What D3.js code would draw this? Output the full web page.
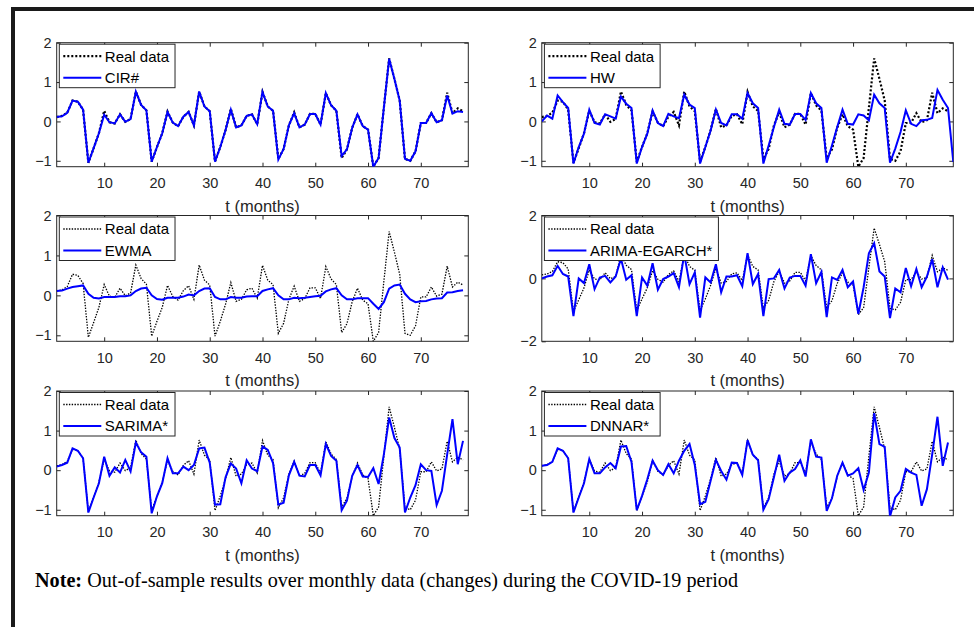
<!DOCTYPE html>
<html><head><meta charset="utf-8">
<script src="https://cdn.jsdelivr.net/npm/d3@7"></script>
<style>
html,body{margin:0;padding:0;background:#fff;}
svg{display:block;}
</style></head>
<body>
<script>
// ---------- DATA ----------
const realData = [0.11,0.14,0.22,0.53,0.50,0.30,-1.05,-0.68,-0.30,0.27,
-0.02,-0.05,0.18,-0.01,0.06,0.76,0.42,0.28,-1.02,-0.65,
-0.30,0.25,-0.03,-0.12,0.12,0.24,-0.10,0.76,0.38,0.26,
-1.02,-0.65,-0.22,0.32,-0.15,-0.10,0.14,0.18,-0.07,0.75,
0.38,0.27,-0.95,-0.70,-0.10,0.23,-0.15,-0.08,0.19,0.19,
-0.08,0.72,0.41,0.27,-0.93,-0.71,-0.16,0.18,-0.12,-0.21,
-1.15,-0.93,0.35,1.60,1.08,0.53,-0.95,-1.00,-0.76,-0.04,
-0.04,0.21,-0.02,0.03,0.73,0.21,0.33,0.26];

const cirFit = [0.11,0.13,0.22,0.53,0.50,0.30,-1.05,-0.68,-0.30,0.17,
-0.02,-0.05,0.18,-0.01,0.06,0.76,0.42,0.28,-1.02,-0.65,
-0.30,0.24,-0.03,-0.12,0.12,0.24,-0.10,0.76,0.38,0.26,
-1.02,-0.65,-0.22,0.30,-0.15,-0.10,0.14,0.18,-0.07,0.75,
0.38,0.27,-0.97,-0.70,-0.10,0.21,-0.15,-0.08,0.19,0.19,
-0.08,0.72,0.41,0.27,-0.88,-0.71,-0.16,0.18,-0.12,-0.21,
-1.15,-0.93,0.35,1.59,1.08,0.53,-0.95,-1.00,-0.76,-0.04,
-0.04,0.21,-0.02,0.03,0.66,0.20,0.26,0.24];

const hwFit = [0.00,0.15,0.07,0.66,0.49,0.34,-1.07,-0.65,-0.31,0.30,
-0.04,-0.08,0.18,0.13,0.07,0.63,0.45,0.34,-1.07,-0.65,
-0.31,0.28,-0.04,-0.12,0.19,0.13,0.08,0.68,0.43,0.34,
-1.07,-0.65,-0.23,0.30,-0.04,-0.10,0.18,0.18,0.07,0.72,
0.46,0.34,-1.07,-0.61,-0.14,0.30,-0.06,-0.08,0.19,0.19,
0.04,0.72,0.46,0.34,-1.05,-0.61,-0.14,0.30,-0.06,-0.08,
0.18,0.15,0.03,0.68,0.46,0.34,-1.05,-0.69,-0.27,0.28,
-0.06,-0.12,0.03,0.04,0.09,0.80,0.55,0.34,-1.03];

const ewmaFit = [0.11,0.12,0.17,0.21,0.23,0.25,0.04,-0.06,-0.08,-0.04,
-0.04,-0.04,-0.02,-0.02,0.00,0.11,0.17,0.19,0.00,-0.09,
-0.11,-0.06,-0.06,-0.06,-0.03,0.02,0.00,0.11,0.17,0.18,
-0.04,-0.10,-0.10,-0.04,-0.06,-0.06,-0.03,-0.02,-0.02,0.11,
0.15,0.18,0.00,-0.10,-0.10,-0.06,-0.07,-0.06,-0.04,-0.02,
-0.01,0.10,0.15,0.18,0.00,-0.10,-0.10,-0.07,-0.07,-0.07,
-0.21,-0.34,-0.17,0.17,0.25,0.27,0.04,-0.10,-0.17,-0.15,
-0.14,-0.10,-0.08,-0.07,0.07,0.08,0.11,0.13];

const arimaEgarchFit = [0.00,0.06,0.10,0.40,0.14,0.06,-1.20,0.00,-0.15,0.45,
-0.34,0.03,0.08,-0.13,0.06,0.63,-0.04,0.10,-1.20,0.03,
-0.23,0.48,-0.36,-0.02,0.06,0.17,-0.28,0.77,-0.18,0.19,
-1.25,0.03,-0.13,0.45,-0.44,0.06,0.06,0.10,-0.25,0.80,
-0.18,0.14,-1.20,-0.02,0.00,0.27,-0.32,0.03,0.08,0.08,
-0.23,0.77,-0.15,0.21,-1.23,0.03,-0.05,0.27,-0.28,-0.10,
-1.13,-0.28,0.80,1.12,0.22,0.06,-1.26,-0.32,-0.44,0.33,
-0.25,0.30,-0.28,0.06,0.61,-0.28,0.35,-0.04];

const sarimaFit = [0.09,0.13,0.19,0.55,0.49,0.30,-1.07,-0.69,-0.33,0.34,
-0.14,0.07,-0.06,0.26,-0.03,0.70,0.45,0.34,-1.09,-0.66,
-0.33,0.30,-0.08,-0.08,0.09,0.00,0.13,0.55,0.57,0.19,
-0.87,-0.86,-0.18,0.17,0.04,-0.33,0.25,0.04,-0.03,0.60,
0.51,0.18,-0.87,-0.82,-0.13,0.21,-0.14,-0.16,0.13,0.13,
-0.13,0.66,0.36,0.24,-1.01,-0.77,-0.14,0.13,-0.16,-0.17,
0.05,-0.35,0.40,1.33,0.81,0.57,-1.07,-0.69,-0.38,0.15,
0.00,-0.02,-0.88,-0.52,0.40,1.29,0.15,0.74];

const dnnarFit = [0.11,0.13,0.21,0.55,0.49,0.30,-1.07,-0.69,-0.33,0.28,
-0.08,-0.08,0.07,0.18,0.05,0.60,0.61,0.21,-1.01,-0.65,
-0.23,0.24,0.00,-0.12,0.15,-0.08,0.24,0.49,0.66,0.13,
-0.86,-0.80,-0.27,0.26,-0.02,-0.24,0.19,0.18,-0.12,0.76,
0.39,0.25,-1.00,-0.73,-0.18,0.39,-0.27,-0.06,0.03,0.25,
-0.16,0.78,0.34,0.32,-1.03,-0.71,-0.14,0.19,-0.14,-0.08,
0.05,-0.50,-0.06,1.44,0.66,0.59,-1.17,-0.69,-0.52,0.03,
-0.06,-0.12,-0.90,-0.48,0.40,1.35,0.11,0.70];

const modelNames = ["CIR#", "HW", "EWMA", "ARIMA-EGARCH*", "SARIMA*", "DNNAR*"];
const realLabel = "Real data";
const xTickValues = [10, 20, 30, 40, 50, 60, 70];
const yTicksStandard = [-1, 0, 1, 2];
const yTicksWide = [-2, 0, 2];
const xLabel = "t (months)";
const noteBold = "Note:";
const noteText = " Out-of-sample results over monthly data (changes) during the COVID-19 period";

// ---------- LAYOUT ----------
const W = 974, H = 627;
const colX = [[56.7, 468.3], [541.8, 953.3]];
const rowY = [[42.7, 166.7], [215.5, 341.3], [391, 515.7]];
const axisColor = "#262626";
const sansFont = "'Liberation Sans', Arial, Helvetica, sans-serif";

const panels = [
  {name: modelNames[0], fit: cirFit, yDomain: [-1.15, 2], yTicks: yTicksStandard, col: 0, row: 0, thickReal: true},
  {name: modelNames[1], fit: hwFit, yDomain: [-1.15, 2], yTicks: yTicksStandard, col: 1, row: 0, thickReal: true},
  {name: modelNames[2], fit: ewmaFit, yDomain: [-1.15, 2], yTicks: yTicksStandard, col: 0, row: 1, thickReal: false},
  {name: modelNames[3], fit: arimaEgarchFit, yDomain: [-2, 2], yTicks: yTicksWide, col: 1, row: 1, thickReal: false},
  {name: modelNames[4], fit: sarimaFit, yDomain: [-1.15, 2], yTicks: yTicksStandard, col: 0, row: 2, thickReal: false},
  {name: modelNames[5], fit: dnnarFit, yDomain: [-1.15, 2], yTicks: yTicksStandard, col: 1, row: 2, thickReal: false},
];

const svg = d3.select("body").append("svg").attr("width", W).attr("height", H)
  .style("font-family", sansFont);
svg.append("rect").attr("width", W).attr("height", H).attr("fill", "#fff");

// outer frame (top + left)
svg.append("path").attr("d", `M13,${H} V9 H${W}`).attr("fill", "none")
  .attr("stroke", "#1a1a1a").attr("stroke-width", 4);

const defs = svg.append("defs");

panels.forEach((p, i) => {
  const [x0, x1] = colX[p.col];
  const [y0, y1] = rowY[p.row];
  const x = d3.scaleLinear().domain([1, 79]).range([x0, x1]);
  const y = d3.scaleLinear().domain(p.yDomain).range([y1, y0]);
  const g = svg.append("g");

  defs.append("clipPath").attr("id", "clip" + i).append("rect")
    .attr("x", x0).attr("y", y0).attr("width", x1 - x0).attr("height", y1 - y0);

  // axes
  const bottom = g.append("g").attr("transform", `translate(0,${y1})`)
    .call(d3.axisBottom(x).tickValues(xTickValues).tickSizeInner(-4).tickSizeOuter(0).tickPadding(11.5));
  const top = g.append("g").attr("transform", `translate(0,${y0})`)
    .call(d3.axisTop(x).tickValues(xTickValues).tickSizeInner(-4).tickSizeOuter(0).tickFormat(""));
  const left = g.append("g").attr("transform", `translate(${x0},0)`)
    .call(d3.axisLeft(y).tickValues(p.yTicks).tickSizeInner(-4).tickSizeOuter(0).tickPadding(5)
      .tickFormat(d => d < 0 ? "\u2212" + Math.abs(d) : d));
  const right = g.append("g").attr("transform", `translate(${x1},0)`)
    .call(d3.axisRight(y).tickValues(p.yTicks).tickSizeInner(-4).tickSizeOuter(0).tickFormat(""));
  [bottom, top, left, right].forEach(a => {
    a.select(".domain").remove();
    a.selectAll("line").attr("stroke", axisColor);
    a.selectAll("text").attr("fill", axisColor).style("font-size", "14.5px").style("font-family", sansFont);
  });
  g.append("rect").attr("x", x0).attr("y", y0).attr("width", x1 - x0).attr("height", y1 - y0)
    .attr("fill", "none").attr("stroke", axisColor).attr("stroke-width", 1);

  // x label
  g.append("text").attr("x", (x0 + x1) / 2).attr("y", y1 + 45)
    .attr("text-anchor", "middle").attr("fill", axisColor).style("font-size", "16.5px").text(xLabel);

  // lines
  const line = d3.line().x((d, j) => x(j + 1)).y(d => y(d));
  const lines = g.append("g").attr("clip-path", `url(#clip${i})`);
  const realW = p.thickReal ? 2.2 : 1.3;
  const realDash = p.thickReal ? "2,2" : "1.4,1.4";
  lines.append("path").datum(realData).attr("d", line).attr("fill", "none")
    .attr("stroke", "#000").attr("stroke-width", realW).attr("stroke-dasharray", realDash);
  lines.append("path").datum(p.fit).attr("d", line).attr("fill", "none")
    .attr("stroke", "#0000ff").attr("stroke-width", 2).attr("stroke-linejoin", "miter");

  // legend
  const lg = g.append("g").attr("transform", `translate(${x0 + 2.6},${y0 + 1.5})`);
  const box = lg.append("rect").attr("fill", "#fff").attr("stroke", axisColor).attr("stroke-width", 1);
  const items = [
    {label: realLabel, stroke: "#000", w: realW, dash: realDash},
    {label: p.name, stroke: "#0000ff", w: 2, dash: null},
  ];
  let maxW = 0;
  items.forEach((it, k) => {
    const cy = 12 + k * 21.5;
    lg.append("line").attr("x1", 4).attr("x2", 42).attr("y1", cy).attr("y2", cy)
      .attr("stroke", it.stroke).attr("stroke-width", it.w).attr("stroke-dasharray", it.dash);
    const t = lg.append("text").attr("x", 45.5).attr("y", cy).attr("dy", "0.36em")
      .attr("fill", "#000").style("font-size", "15px").text(it.label);
    maxW = Math.max(maxW, t.node().getComputedTextLength());
  });
  box.attr("x", 0).attr("y", 0).attr("width", 45.5 + maxW + 6).attr("height", 43.5);
});

// note
const note = svg.append("text").attr("x", 35).attr("y", 587)
  .style("font-family", "'Liberation Serif', 'Times New Roman', serif").style("font-size", "20.2px").attr("fill", "#000");
note.append("tspan").style("font-weight", "bold").text(noteBold);
note.append("tspan").text(noteText);
</script>
</body></html>
